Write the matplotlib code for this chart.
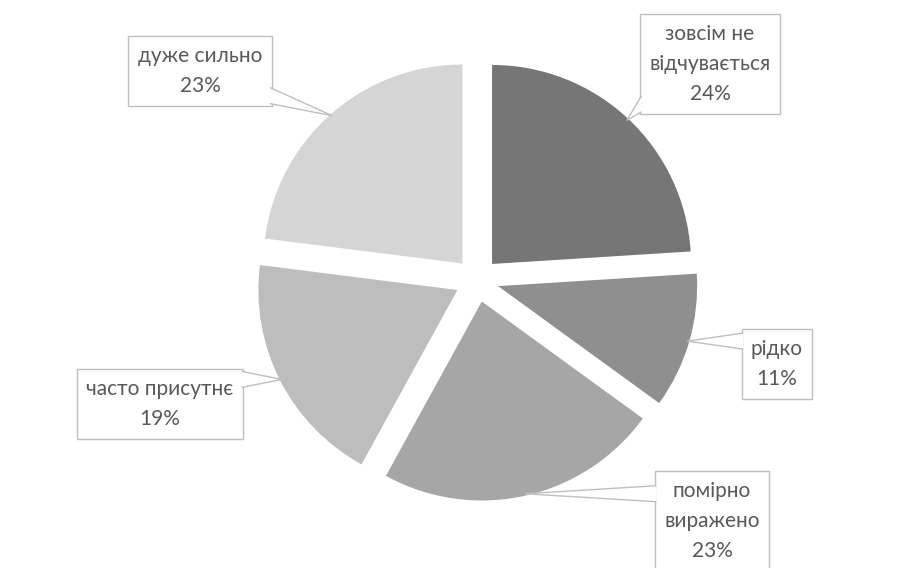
import numpy as np
import matplotlib.pyplot as plt
from matplotlib.patches import Polygon

labels = ['зовсім не\nвідчувається', 'рідко', 'помірно\nвиражено', 'часто присутнє', 'дуже сильно']
values = [24, 11, 23, 19, 23]
colors = ['#767676', '#8f8f8f', '#a6a6a6', '#bdbdbd', '#d5d5d5']

W, H = 924, 568
# label box centres in pixels from top-left
label_pos = [(710, 64), (777, 364), (712, 521), (160, 404), (200, 71)]

fig = plt.figure(figsize=(W / 100, H / 100), dpi=100)
ax = fig.add_axes([0, 0, 1, 1])

cx, cy, r = 477, H - 280, 199
wedges, _ = ax.pie(values, colors=colors, startangle=90, counterclock=False,
                   explode=[22] * len(values), radius=r, center=(cx, cy),
                   wedgeprops=dict(linewidth=0))
ax.set_xlim(0, W)
ax.set_ylim(0, H)
ax.set_aspect('equal')
ax.axis('off')

texts = []
for lab, v, (x, y) in zip(labels, values, label_pos):
    t = ax.text(x, H - y, '%s\n%d%%' % (lab, v), ha='center', va='center',
                fontsize=15, color='#595959', family=['Lato', 'DejaVu Sans'],
                linespacing=1.65, zorder=5,
                bbox=dict(boxstyle='square,pad=0.45', fc='white', ec='#bfbfbf', lw=1))
    texts.append(t)

fig.canvas.draw()
renderer = fig.canvas.get_renderer()
inv = ax.transData.inverted()

for w, t in zip(wedges, texts):
    ang = np.deg2rad((w.theta1 + w.theta2) / 2)
    tx = w.center[0] + w.r * 0.99 * np.cos(ang)
    ty = w.center[1] + w.r * 0.99 * np.sin(ang)
    ext = t.get_bbox_patch().get_window_extent(renderer)
    (x0, y0), (x1, y1) = inv.transform([[ext.x0, ext.y0], [ext.x1, ext.y1]])
    if tx < x0:
        ex = x0 + 1.5
    else:
        ex = x1 - 1.5
    ym = min(max(ty, y0 + 10), y1 - 10)
    callout = Polygon([[ex, ym + 8], [tx, ty], [ex, ym - 8]], closed=False,
                      fc='white', ec='#bfbfbf', lw=1, zorder=6)
    ax.add_patch(callout)

fig.savefig('out.png', dpi=100)
